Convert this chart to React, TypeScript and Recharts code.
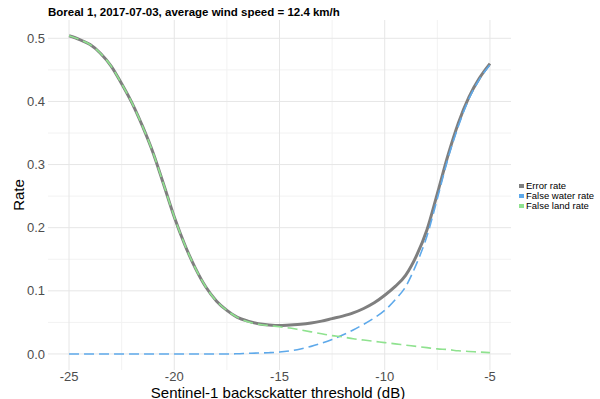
import { LineChart, Line, XAxis, YAxis, CartesianGrid } from 'recharts';

const thresholds = [
    -25, -24.5, -24, -23.5, -23, -22.5, -22, -21.5, -21, -20.5, -20, -19.5, -19, -18.5, -18, -17.5,
    -17, -16.5, -16, -15.5, -15, -14.5, -14, -13.5, -13, -12.5, -12, -11.5, -11, -10.5, -10,
    -9.5, -9, -8.5, -8, -7.5, -7, -6.5, -6, -5.5, -5,
];
const errorRate = [
    0.504, 0.498, 0.490, 0.476, 0.456, 0.428, 0.397, 0.360, 0.318, 0.268, 0.217, 0.173, 0.136, 0.106, 0.084, 0.069,
    0.058, 0.052, 0.048, 0.046, 0.045, 0.046, 0.047, 0.049, 0.052, 0.056, 0.060, 0.065, 0.072, 0.081, 0.093,
    0.107, 0.125, 0.155, 0.196, 0.254, 0.314, 0.366, 0.407, 0.437, 0.460,
];
const falseWaterRate = [
    0, 0, 0, 0, 0, 0, 0, 0, 0, 0, 0, 0, 0, 0, 0, 0,
    0.0003, 0.001, 0.0015, 0.002, 0.003, 0.005, 0.008, 0.012, 0.017, 0.023, 0.030, 0.038, 0.047, 0.057, 0.069,
    0.086, 0.107, 0.142, 0.186, 0.246, 0.309, 0.361, 0.404, 0.435, 0.458,
];
const falseLandRate = [
    0.504, 0.498, 0.490, 0.476, 0.456, 0.428, 0.397, 0.360, 0.318, 0.268, 0.217, 0.173, 0.136, 0.106, 0.084, 0.069,
    0.058, 0.051, 0.047, 0.045, 0.043, 0.041, 0.038, 0.035, 0.032, 0.029, 0.027, 0.024, 0.022, 0.020, 0.018,
    0.016, 0.014, 0.012, 0.010, 0.008, 0.007, 0.005, 0.004, 0.003, 0.002,
];

const xTicks = [-25, -20, -15, -10, -5];
const xMinor = [-22.5, -17.5, -12.5, -7.5];
const yTicks = [0, 0.1, 0.2, 0.3, 0.4, 0.5];
const yMinor = [0.05, 0.15, 0.25, 0.35, 0.45];

const series = [
    { key: 'error', name: 'Error rate', color: '#7f7f7f' },
    { key: 'water', name: 'False water rate', color: '#5ea9ea' },
    { key: 'land', name: 'False land rate', color: '#8fe28f' },
];

const data = thresholds.map((t, i) => ({
    t,
    error: errorRate[i],
    water: falseWaterRate[i],
    land: falseLandRate[i],
}));

const font = '"Liberation Sans", Arial, sans-serif';

export default function App() {
    return (
        <div style={{ position: 'absolute', left: 0, top: 0, width: 600, height: 399, background: '#fff', fontFamily: font }}>
            <div style={{ position: 'absolute', left: 48, top: 5, fontSize: 11.5, lineHeight: '14px', fontWeight: 'bold', color: '#000', whiteSpace: 'nowrap' }}>
                Boreal 1, 2017-07-03, average wind speed = 12.4 km/h
            </div>
            <LineChart width={600} height={399} data={data} margin={{ top: 20, right: 89, left: 0, bottom: 0 }}>
                <CartesianGrid stroke="#f2f2f2" strokeWidth={1} verticalValues={xMinor} horizontalValues={yMinor} />
                <CartesianGrid stroke="#e6e6e6" strokeWidth={1} verticalValues={xTicks} horizontalValues={yTicks} />
                <XAxis
                    dataKey="t"
                    type="number"
                    domain={[-26, -4]}
                    ticks={xTicks}
                    height={29}
                    axisLine={false}
                    tickLine={false}
                    tickSize={0}
                    tickMargin={2}
                    tick={{ fill: '#4d4d4d', fontSize: 13, fontFamily: font }}
                />
                <YAxis
                    type="number"
                    domain={[-0.0254, 0.529]}
                    ticks={yTicks}
                    width={48}
                    axisLine={false}
                    tickLine={false}
                    tickSize={0}
                    tickMargin={3}
                    tickFormatter={(v) => Number(v).toFixed(1)}
                    tick={{ fill: '#4d4d4d', fontSize: 13, fontFamily: font }}
                    allowDataOverflow
                />
                <Line dataKey="error" type="monotone" stroke="#7f7f7f" strokeWidth={3} dot={false} isAnimationActive={false} />
                <Line dataKey="water" type="monotone" stroke="#5ea9ea" strokeWidth={1.6} strokeDasharray="10 5" dot={false} isAnimationActive={false} />
                <Line dataKey="land" type="monotone" stroke="#8fe28f" strokeWidth={1.6} strokeDasharray="10 5" dot={false} isAnimationActive={false} />
            </LineChart>
            <div style={{ position: 'absolute', left: 18, top: 195, transform: 'translate(-50%, -50%) rotate(-90deg)', fontSize: 15, lineHeight: '15px', color: '#000', whiteSpace: 'nowrap' }}>
                Rate
            </div>
            <div style={{ position: 'absolute', left: 278, top: 392.5, transform: 'translate(-50%, -50%)', fontSize: 15, lineHeight: '12px', color: '#000', whiteSpace: 'nowrap' }}>
                Sentinel-1 backsckatter threshold (dB)
            </div>
            <div style={{ position: 'absolute', left: 519, top: 181 }}>
                {series.map((s) => (
                    <div key={s.key} style={{ display: 'flex', alignItems: 'center', height: 10, lineHeight: '10px', fontSize: 9.5, color: '#000', whiteSpace: 'nowrap' }}>
                        <span style={{ display: 'inline-block', width: 5, height: 4, background: s.color, marginRight: 2 }} />
                        {s.name}
                    </div>
                ))}
            </div>
        </div>
    );
}
